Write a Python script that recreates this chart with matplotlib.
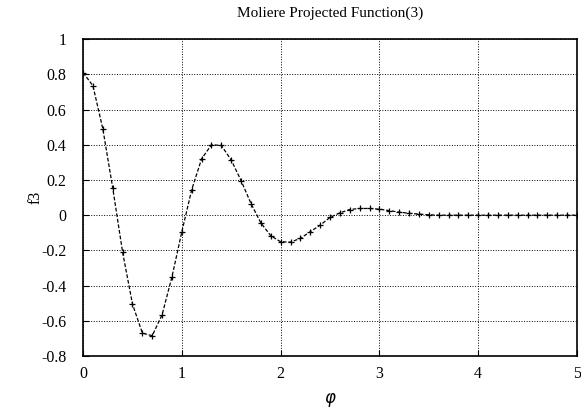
import matplotlib
matplotlib.use('Agg')
import matplotlib.pyplot as plt
import numpy as np

plt.rcParams['font.family'] = ['Liberation Serif', 'DejaVu Serif']

# Sampled projected function, step 0.1 in phi
phi = np.round(np.arange(0, 51) * 0.1, 1)
f3 = [0.81, 0.735, 0.49, 0.155, -0.21, -0.505, -0.67, -0.685, -0.566, -0.35,
      -0.094, 0.145, 0.32, 0.40, 0.396, 0.313, 0.196, 0.066, -0.044, -0.117,
      -0.151, -0.153, -0.132, -0.094, -0.057, -0.013, 0.013, 0.032, 0.038, 0.038,
      0.034, 0.026, 0.017, 0.011, 0.006, 0.002, 0.0, 0.0, 0.0, 0.0,
      0.0, 0.0, 0.0, 0.0, 0.0, 0.0, 0.0, 0.0, 0.0, 0.0,
      0.0]

xticks = [0, 1, 2, 3, 4, 5]
yticks = [-0.8, -0.6, -0.4, -0.2, 0, 0.2, 0.4, 0.6, 0.8, 1]
yticklabels = ['-0.8', '-0.6', '-0.4', '-0.2', '0', '0.2', '0.4', '0.6', '0.8', '1']

fig = plt.figure(figsize=(5.81, 4.12), dpi=100)
ax = fig.add_axes([0.143, 0.136, 0.850, 0.769])

ax.plot(phi, f3, color='black', linestyle=(0, (3, 1.5)), linewidth=0.9,
        marker='+', markersize=5, markeredgewidth=0.9)

ax.set_xlim(0, 5)
ax.set_ylim(-0.8, 1)
ax.set_xticks(xticks)
ax.set_yticks(yticks)
ax.set_yticklabels(yticklabels)
ax.tick_params(direction='in', length=4, labelsize=11.5)
ax.tick_params(axis='y', pad=12)
ax.tick_params(axis='x', pad=7)
ax.grid(True, color='black', linestyle=':', linewidth=0.7)
for s in ax.spines.values():
    s.set_linewidth(1.2)

ax.set_title('Moliere Projected Function(3)', fontsize=11, pad=16)
ax.set_xlabel(r'$\varphi$', fontsize=12, labelpad=7)
ax.set_ylabel('f3', fontsize=11.5)
ax.yaxis.set_label_coords(-0.081, 0.5)

fig.savefig('out.png', dpi=100)
